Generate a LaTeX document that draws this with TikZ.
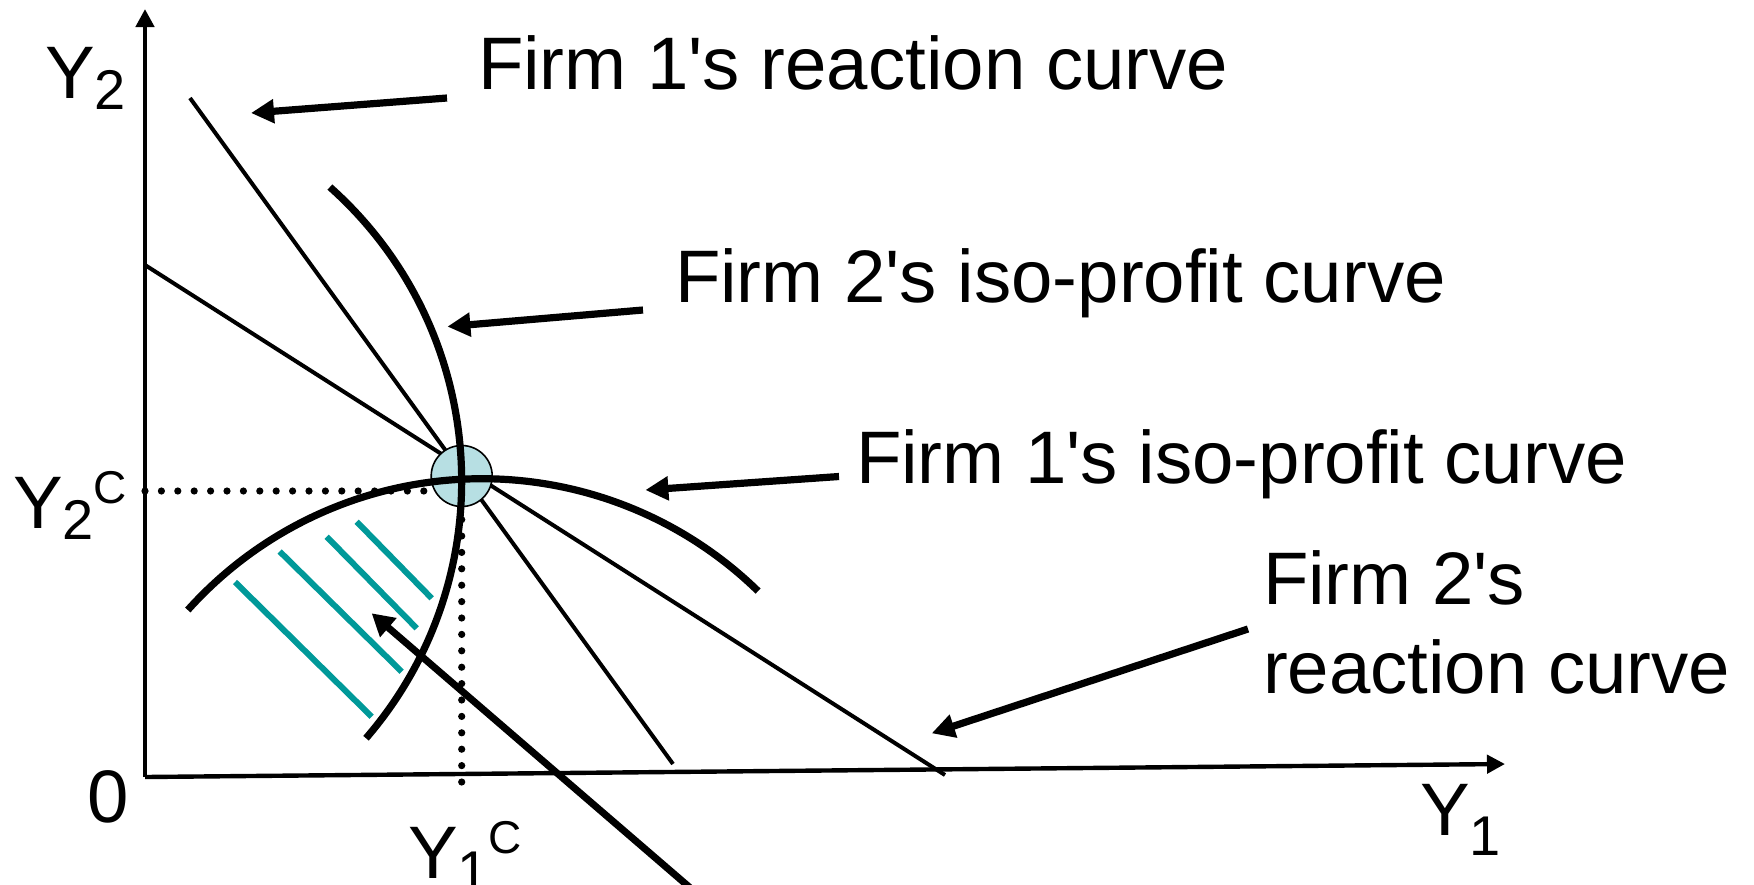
\documentclass[tikz,border=0pt]{standalone}
\usepackage{fontspec}
\setmainfont{Liberation Sans}
\usepackage{tikz}
\usetikzlibrary{arrows.meta, calc}

\definecolor{hatchteal}{RGB}{0,153,153}
\definecolor{eqfill}{RGB}{183,223,227}
\newcommand{\lowsub}[2][5.5pt]{\raisebox{-#1}{\fontsize{28}{30}\selectfont #2}}
\newcommand{\highsup}[1]{\raisebox{12.5pt}{\fontsize{23}{26}\selectfont #1}}

\begin{document}
\begin{tikzpicture}[
	x=0.5pt, y=-0.5pt,
	every node/.style={inner sep=0pt, outer sep=0pt, font=\fontsize{37.2}{44.3}\selectfont},
	lbl/.style={anchor=base west, align=left},
	axis/.style={line width=2.2pt, -{Triangle[length=9pt, width=9pt]}},
	reaction/.style={line width=2pt},
	isocurve/.style={line width=3.6pt},
	hatch/.style={line width=3pt, draw=hatchteal},
	guide/.style={line width=3.6pt, line cap=round, dash pattern=on 0pt off 8.2pt},
	pointer/.style={line width=3.6pt, -{Triangle[length=11.5pt, width=11.5pt]}}
]
\useasboundingbox (0,0) rectangle (1754,884);

% axes
\coordinate (orig) at (145,777);
\coordinate (ytop) at (145,9);
\coordinate (xend) at (1505,764);
\draw[axis] (orig) -- (ytop);
\draw[axis] (orig) -- (xend);
\node[lbl] (ytwo) at (45,98) {Y\lowsub{2}};
\node[lbl] (yone) at (1420,835) {Y\lowsub[10pt]{1}};
\node[lbl] (zero) at (87,822) {0};

% reaction curves
\coordinate (rcOneA) at (190,98);
\coordinate (rcOneB) at (673,764);
\coordinate (rcTwoA) at (145,265);
\coordinate (rcTwoB) at (945,775);
\draw[reaction] (rcOneA) -- (rcOneB);
\draw[reaction] (rcTwoA) -- (rcTwoB);

% Cournot point and guides
\coordinate (eq) at (461.7,476);
\coordinate (ycTwo) at (145,491);
\coordinate (ycOne) at (461.7,782);
\draw[guide] (ycTwo) -- (eq |- ycTwo);
\draw[guide] (ycOne) -- (eq);
\node[circle, draw, line width=0.8pt, fill=eqfill, minimum size=30.5pt] (eqdot) at (eq) {};
\node[lbl] (ytwoc) at (13,528) {Y\lowsub{2}\highsup{C}};
\node[lbl] (yonec) at (408,878) {Y\lowsub[6pt]{1}\highsup{C}};

% iso-profit curves
\coordinate (isoTwoC) at (68,481);
\coordinate (isoOneC) at (482,874);
\draw[isocurve] ([shift={(48.3:196.85pt)}]isoTwoC) arc[start angle=48.3, end angle=-40.8, radius=196.85pt];
\draw[isocurve] ([shift={(138.1:197.65pt)}]isoOneC) arc[start angle=138.1, end angle=45.7, radius=197.65pt];

% higher profits for firm 1
\draw[hatch] (235,582) -- (371.7,716.7);
\draw[hatch] (279.7,551.5) -- (401.7,671.7);
\draw[hatch] (326.7,536.7) -- (416.7,628.3);
\draw[hatch] (356.7,521.7) -- (431.7,598.3);
\coordinate (bigTail) at (695,892);
\coordinate (bigTip) at (371.7,613.3);
\draw[line width=3.5pt, -{Triangle[length=11pt, width=12pt]}] (bigTail) -- (bigTip);

% labels with pointers
\node[lbl] (txtRcOne) at (478,89.5) {Firm 1\textquotesingle s reaction curve};
\node[lbl] (txtIsoTwo) at (675,302) {Firm 2\textquotesingle s iso-profit curve};
\node[lbl] (txtIsoOne) at (856,483) {Firm 1\textquotesingle s iso-profit curve};
\node[lbl] (txtRcTwo) at (1263,693.5) {Firm 2\textquotesingle s\\reaction curve};
\coordinate (pRcOneT) at (447,98);   \coordinate (pRcOneH) at (251,113);
\coordinate (pIsoTwoT) at (643,310); \coordinate (pIsoTwoH) at (447.4,326.6);
\coordinate (pIsoOneT) at (839,476.5); \coordinate (pIsoOneH) at (645.4,490);
\coordinate (pRcTwoT) at (1248,629); \coordinate (pRcTwoH) at (931.7,733.3);
\draw[pointer] (pRcOneT) -- (pRcOneH);
\draw[pointer] (pIsoTwoT) -- (pIsoTwoH);
\draw[pointer] (pIsoOneT) -- (pIsoOneH);
\draw[pointer] (pRcTwoT) -- (pRcTwoH);

\end{tikzpicture}
\end{document}
